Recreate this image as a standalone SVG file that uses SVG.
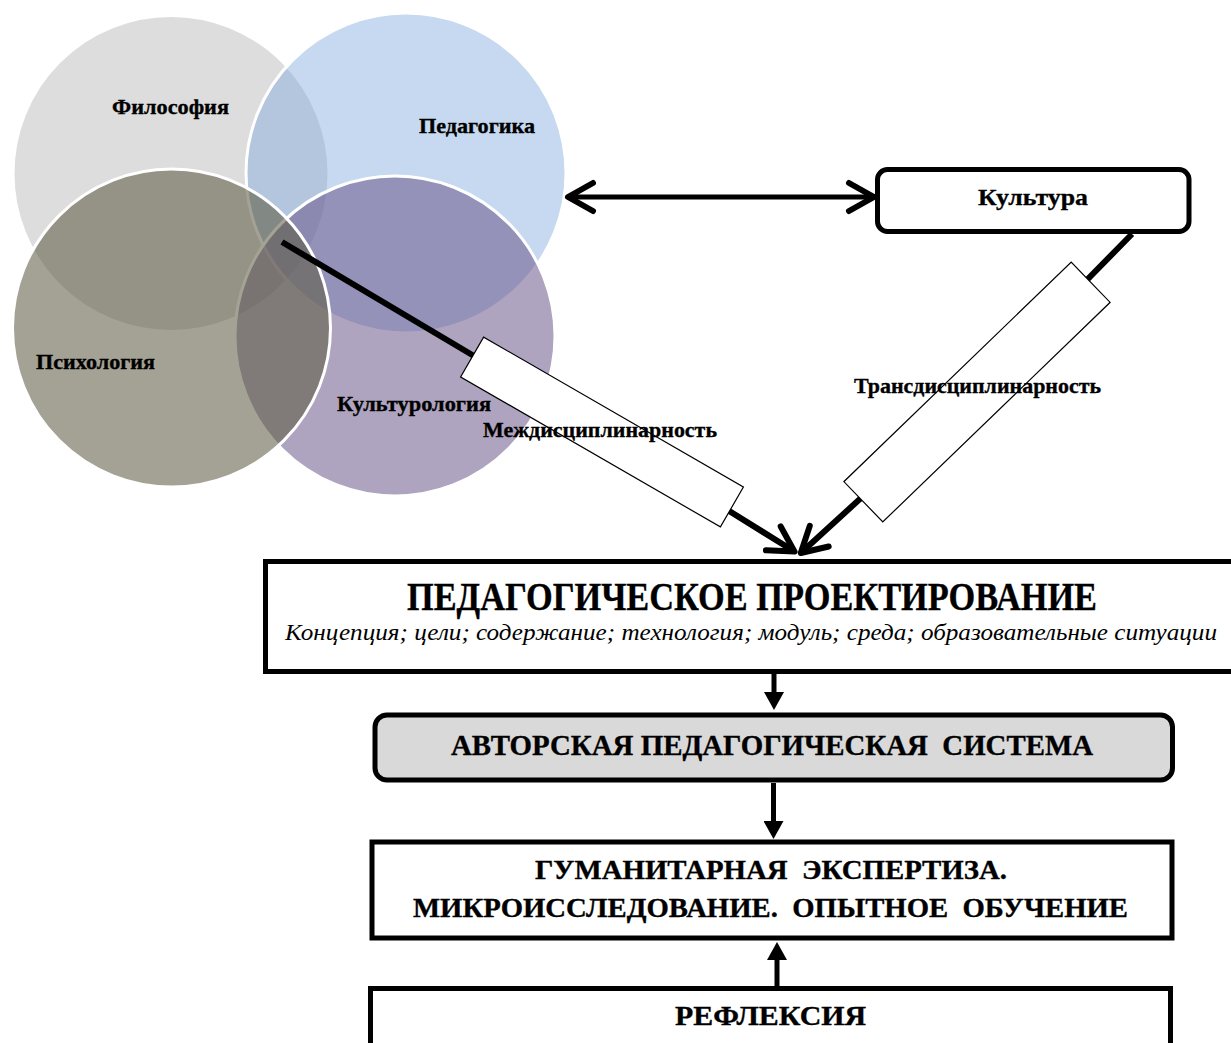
<svg xmlns="http://www.w3.org/2000/svg" width="1231" height="1043" viewBox="0 0 1231 1043">
<style>
.lbl{font-family:"Liberation Serif","Times New Roman",serif;font-weight:bold;fill:#000;stroke:#000;stroke-width:0.35;}
.it{font-family:"Liberation Serif","Times New Roman",serif;font-style:italic;fill:#000;}
.box{fill:#fff;stroke:#000;stroke-width:5;}
.circ{stroke:#fff;stroke-width:3;}
.con{fill:none;stroke:#000;stroke-width:5;}
.diag{fill:none;stroke:#000;stroke-width:6;stroke-linejoin:round;}
.tag{fill:#fff;stroke:#000;stroke-width:1.2;}
text{white-space:pre;}
</style>
<defs>
<marker id="tri" markerUnits="userSpaceOnUse" viewBox="0 0 18 20" markerWidth="18" markerHeight="20" refX="0" refY="10" orient="auto">
<path d="M0,0 L18,10 L0,20 z" fill="#000"/>
</marker>
<marker id="chev" markerUnits="userSpaceOnUse" viewBox="-32 -20 40 40" markerWidth="40" markerHeight="40" refX="-3" refY="0" orient="auto-start-reverse" overflow="visible">
<path d="M-25,-14 L0,0 L-25,14" fill="none" stroke="#000" stroke-width="6" stroke-linecap="round" stroke-linejoin="round"/>
</marker>
</defs>
<rect width="1231" height="1043" fill="#fff"/>

<g id="venn">
<g id="filosofiya"><circle class="circ" cx="171" cy="173.5" r="158" fill="#dddddd"/></g>
<g id="pedagogika"><circle class="circ" cx="406" cy="173" r="160" fill="rgb(123,167,221)" fill-opacity="0.43"/></g>
<g id="kulturologiya"><circle class="circ" cx="395" cy="336" r="160" fill="rgb(104,83,134)" fill-opacity="0.53"/></g>
<g id="psikhologiya"><circle class="circ" cx="171.5" cy="328" r="159" fill="rgb(94,92,67)" fill-opacity="0.57"/></g>
<text class="lbl" x="112" y="114" font-size="22" textLength="117" lengthAdjust="spacingAndGlyphs">Философия</text>
<text class="lbl" x="419" y="133" font-size="22" textLength="116" lengthAdjust="spacingAndGlyphs">Педагогика</text>
<text class="lbl" x="36" y="369" font-size="22" textLength="119" lengthAdjust="spacingAndGlyphs">Психология</text>
<text class="lbl" x="337" y="411" font-size="22" textLength="154" lengthAdjust="spacingAndGlyphs">Культурология</text>
</g>

<g id="connectors">
<path class="con" d="M571,197 L871,197" marker-start="url(#chev)" marker-end="url(#chev)"/>
<path class="diag" d="M282,242 L602,432 L792,550" marker-end="url(#chev)"/>
<path class="diag" d="M1132,234 L977,392 L803,551" marker-end="url(#chev)"/>
<path class="con" d="M774,674 L774,692" marker-end="url(#tri)"/>
<path class="con" d="M773.5,783 L773.5,821" marker-end="url(#tri)"/>
<path class="con" d="M777,986 L777,960" marker-end="url(#tri)"/>
</g>

<g id="mezhdisciplinarnost">
<rect class="tag" x="-150" y="-23" width="300" height="46" transform="translate(602,432) rotate(30)"/>
<text class="lbl" x="483" y="437" font-size="22" textLength="234" lengthAdjust="spacingAndGlyphs">Междисциплинарность</text>
</g>

<g id="transdisciplinarnost">
<rect class="tag" x="-158" y="-28" width="316" height="56" transform="translate(977,392) rotate(-44)"/>
<text class="lbl" x="854" y="393" font-size="22" textLength="247" lengthAdjust="spacingAndGlyphs">Трансдисциплинарность</text>
</g>

<g id="kultura">
<rect class="box" x="877.5" y="169.5" width="311.5" height="62" rx="10"/>
<text class="lbl" x="978" y="205" font-size="24" textLength="110" lengthAdjust="spacingAndGlyphs">Культура</text>
</g>

<g id="proektirovanie">
<rect class="box" x="265.5" y="561.5" width="990" height="110"/>
<text class="lbl" x="407" y="609.5" font-size="40" textLength="690" lengthAdjust="spacingAndGlyphs">ПЕДАГОГИЧЕСКОЕ ПРОЕКТИРОВАНИЕ</text>
<text class="it" x="285" y="640" font-size="23" textLength="932" lengthAdjust="spacingAndGlyphs">Концепция; цели; содержание; технология; модуль; среда; образовательные ситуации</text>
</g>

<g id="avtorskaya">
<rect class="box" x="375" y="715" width="797.5" height="65" rx="12" style="fill:#d9d9d9"/>
<text class="lbl" x="451" y="755" font-size="29" textLength="642" lengthAdjust="spacingAndGlyphs">АВТОРСКАЯ ПЕДАГОГИЧЕСКАЯ  СИСТЕМА</text>
</g>

<g id="ekspertiza">
<rect class="box" x="372" y="842" width="800" height="96"/>
<text class="lbl" x="535" y="879" font-size="28" textLength="472" lengthAdjust="spacingAndGlyphs">ГУМАНИТАРНАЯ  ЭКСПЕРТИЗА.</text>
<text class="lbl" x="413" y="916.5" font-size="28" textLength="715" lengthAdjust="spacingAndGlyphs">МИКРОИССЛЕДОВАНИЕ.  ОПЫТНОЕ  ОБУЧЕНИЕ</text>
</g>

<g id="refleksiya">
<rect class="box" x="370.5" y="988.5" width="800" height="80"/>
<text class="lbl" x="675" y="1025" font-size="28" textLength="191" lengthAdjust="spacingAndGlyphs">РЕФЛЕКСИЯ</text>
</g>
</svg>
